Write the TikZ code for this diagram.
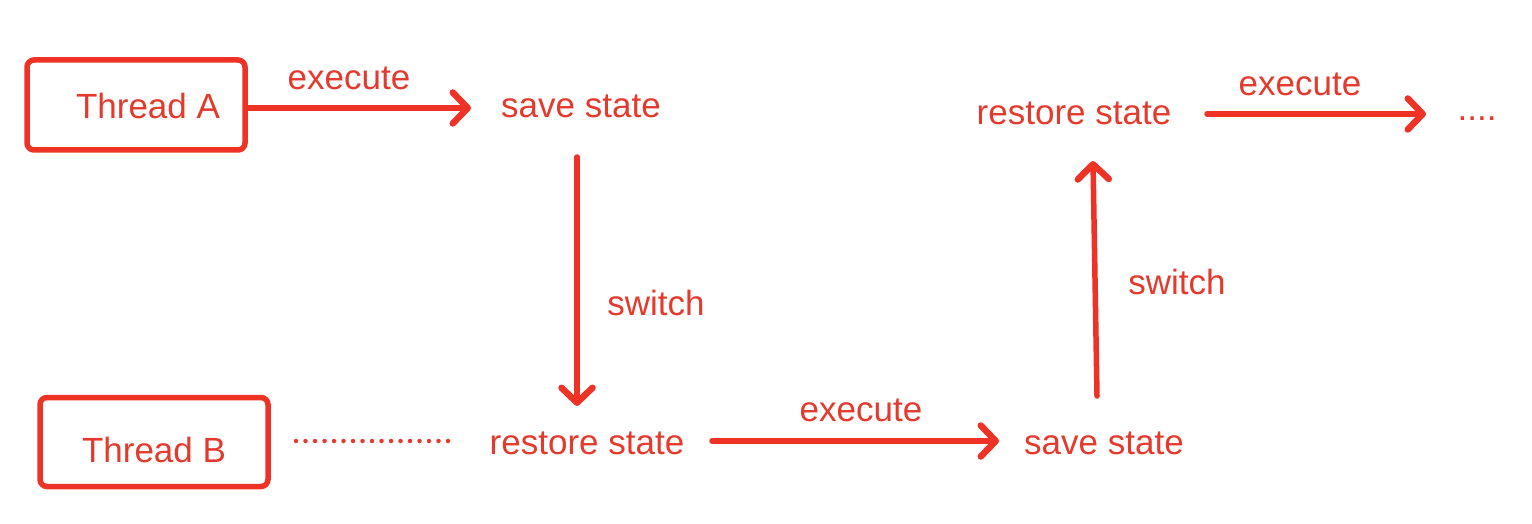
\documentclass[tikz,border=0pt]{standalone}
\usepackage{fontspec}
\setmainfont{Liberation Sans}
\usetikzlibrary{arrows.meta}
\definecolor{cred}{RGB}{228,58,45}
\definecolor{ared}{RGB}{238,50,38}
\begin{document}
\begin{tikzpicture}[x=1pt,y=-1pt,
  lbl/.style={text=cred,font=\fontsize{35}{40}\selectfont,inner sep=0pt},
  tbox/.style={draw=ared,line width=5.5pt,rounded corners=7pt,inner sep=0pt},
  arr/.style={draw=ared,line width=5.5pt,line cap=round,-{Straight Barb[length=15pt,width=31pt,line width=6.5pt,round]}},
  dots/.style={draw=cred,line width=4.5pt,dash pattern=on 0pt off 9.5pt,line cap=round}]
\useasboundingbox (0,0) rectangle (1532,524);
% Thread A
\node[tbox,minimum width=218pt,minimum height=90pt] (ta) at (136,105) {};
\node[lbl] (tat) at (148,106) {Thread A};
\node[lbl] (sa) at (581,106) {save state};
\node[lbl] (ex1) at (349,78) {execute};
\coordinate (ae1) at (471,108);
\draw[arr] (ta.east |- ae1) -- (ae1);
% switch down
\coordinate (d1) at (577,157);
\coordinate (d2) at (577,406);
\draw[arr] (d1) -- (d2);
\node[lbl] (sw1) at (656,303) {switch};
% Thread B
\node[tbox,minimum width=228pt,minimum height=89pt] (tb) at (154,442) {};
\node[lbl] (tbt) at (154,450) {Thread B};
\coordinate (dt1) at (296,441);
\coordinate (dt2) at (454,441);
\draw[dots] (dt1) -- (dt2);
\node[lbl] (rb) at (587,443) {restore state};
% execute bottom
\coordinate (b1) at (712,441);
\coordinate (b2) at (999,441);
\draw[arr] (b1) -- (b2);
\node[lbl] (ex2) at (861,410) {execute};
\node[lbl] (sb) at (1104,443) {save state};
% switch up
\coordinate (u1) at (1097,396);
\coordinate (u2) at (1093,161);
\draw[arr] (u1) -- (u2);
\node[lbl] (sw2) at (1177,282) {switch};
\node[lbl] (ra) at (1074,113) {restore state};
% execute top right
\coordinate (c1) at (1207,114);
\coordinate (c2) at (1426,114);
\draw[arr] (c1) -- (c2);
\node[lbl] (ex3) at (1300,84) {execute};
\node[lbl] (end) at (1477,119) {....};
\end{tikzpicture}
\end{document}
